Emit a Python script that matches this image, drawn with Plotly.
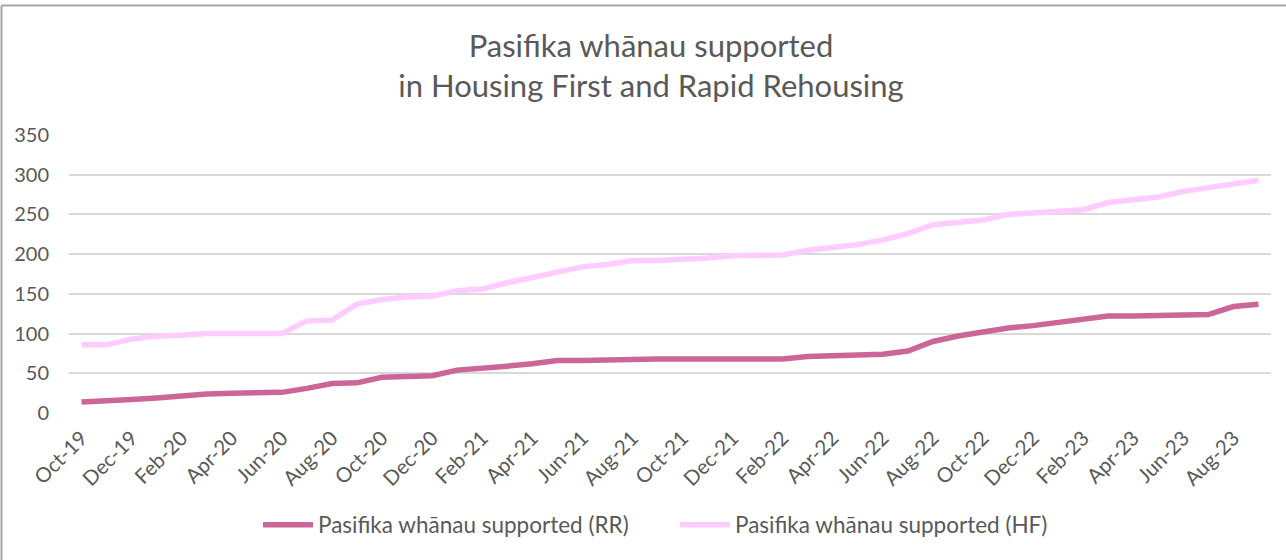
import plotly.graph_objects as go

months = ['Oct-19', 'Nov-19', 'Dec-19', 'Jan-20', 'Feb-20', 'Mar-20', 'Apr-20', 'May-20',
          'Jun-20', 'Jul-20', 'Aug-20', 'Sep-20', 'Oct-20', 'Nov-20', 'Dec-20', 'Jan-21',
          'Feb-21', 'Mar-21', 'Apr-21', 'May-21', 'Jun-21', 'Jul-21', 'Aug-21', 'Sep-21',
          'Oct-21', 'Nov-21', 'Dec-21', 'Jan-22', 'Feb-22', 'Mar-22', 'Apr-22', 'May-22',
          'Jun-22', 'Jul-22', 'Aug-22', 'Sep-22', 'Oct-22', 'Nov-22', 'Dec-22', 'Jan-23',
          'Feb-23', 'Mar-23', 'Apr-23', 'May-23', 'Jun-23', 'Jul-23', 'Aug-23', 'Sep-23']

rr_supported = [14, 15, 17, 19, 22, 24, 25, 25, 26, 31, 37, 38, 45, 46, 47, 54,
                56, 59, 62, 66, 66, 67, 68, 68, 68, 68, 68, 68, 68, 71, 72, 72,
                74, 78, 90, 97, 102, 107, 110, 114, 118, 122, 122, 123, 124, 124, 134, 137]

hf_supported = [86, 86, 93, 97, 98, 100, 100, 100, 100, 116, 117, 137, 143, 146, 147, 154,
                156, 164, 171, 177, 184, 187, 192, 192, 193, 195, 198, 199, 199, 205, 208, 212,
                218, 226, 237, 240, 243, 250, 252, 253, 256, 265, 268, 272, 279, 284, 288, 293]

tick_labels = months[::2]
y_ticks = [0, 50, 100, 150, 200, 250, 300, 350]

FONT = "Lato, sans-serif"
GREY = '#595959'

# plot area in pixels (Excel-like layout)
W, H = 1286, 560
L, R, T, B = 69, 15, 135, 147
pw, ph = W - L - R, H - T - B

fig = go.Figure()
fig.add_trace(go.Scatter(
    x=months, y=rr_supported, mode='lines',
    name='Pasifika whānau supported (RR)',
    line=dict(color='#CC6699', width=5.5)
))
fig.add_trace(go.Scatter(
    x=months, y=hf_supported, mode='lines',
    name='Pasifika whānau supported (HF)',
    line=dict(color='#FFCCFF', width=5.5)
))

# chart-area border (only left and top edges visible)
bx = (1.5 - L) / pw
by = (H - B - 5.5) / ph
fig.add_shape(type='line', xref='paper', yref='paper', x0=bx, x1=(W - L) / pw, y0=by, y1=by,
              line=dict(color='#A6A6A6', width=2))
fig.add_shape(type='line', xref='paper', yref='paper', x0=bx, x1=bx, y0=by, y1=-(B + 5) / ph,
              line=dict(color='#A6A6A6', width=2))

fig.update_layout(
    width=W, height=H,
    margin=dict(l=L, r=R, t=T, b=B),
    plot_bgcolor='white',
    paper_bgcolor='white',
    font=dict(family=FONT, size=20, color=GREY),
    title=dict(
        text='Pasifika whānau supported<br>in Housing First and Rapid Rehousing',
        x=651 / W, xanchor='center', xref='container',
        y=1 - 57 / H, yanchor='middle', yref='container',
        font=dict(family=FONT, size=31, color=GREY)
    ),
    xaxis=dict(
        type='category',
        range=[-0.5, len(months) - 0.5],
        tickmode='array', tickvals=tick_labels, ticktext=tick_labels,
        tickangle=-45,
        showgrid=False, showline=False, zeroline=False,
        ticks='outside', ticklen=4, tickcolor='rgba(0,0,0,0)',
        tickfont=dict(family=FONT, size=20.5, color=GREY)
    ),
    yaxis=dict(
        range=[0, 350],
        tickmode='array', tickvals=y_ticks,
        gridcolor='#D9D9D9', gridwidth=1.5,
        zeroline=False, showline=False,
        ticklabelstandoff=19,
        tickfont=dict(family=FONT, size=20, color=GREY)
    ),
    showlegend=True,
    legend=dict(
        orientation='h',
        x=(258 - L) / pw, xanchor='left',
        y=-(525 - (H - B)) / ph, yanchor='middle',
        itemwidth=50,
        entrywidth=352, entrywidthmode='pixels',
        font=dict(family=FONT, size=22.5, color=GREY),
        bgcolor='rgba(0,0,0,0)'
    )
)

fig.write_html("out.html", config={'displayModeBar': False},
               post_script="document.body.style.margin='0';")
